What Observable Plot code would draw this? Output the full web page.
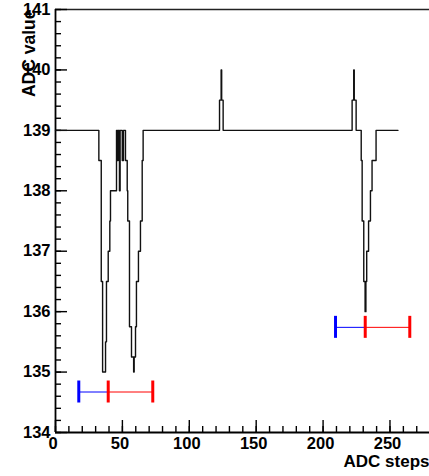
<!DOCTYPE html>
<html>
<head>
<meta charset="utf-8">
<script src="https://cdn.jsdelivr.net/npm/d3@7"></script>
<script src="https://cdn.jsdelivr.net/npm/@observablehq/plot@0.6"></script>
<style>
  html, body { margin: 0; padding: 0; background: #fff; overflow: hidden; }
  #chart { width: 429px; height: 476px; overflow: hidden; }
  #chart svg { max-width: none !important; height: 476px !important; }
</style>
</head>
<body>
<div id="chart"></div>
<script>
// ADC trace vertices (ADC step, ADC value)
const adcStep = [
  0, 32.4, 32.4, 34.2, 34.2, 35.2, 35.2, 37.4, 37.4, 38.1, 38.1, 39.4, 39.4, 40.6, 40.6, 41.1, 41.1,
  45.6, 45.6, 46.3, 46.3, 46.8, 46.8, 47.8, 47.8, 48.3, 48.3, 49.9, 49.9, 50.8, 50.8,
  52.3, 52.3, 53.6, 53.6, 54.0, 54.0, 55.3, 55.3, 56.8, 56.8, 58.4, 58.4, 58.8, 58.8,
  59.8, 59.8, 60.5, 60.5, 62.0, 62.0, 63.5, 63.5, 64.8, 64.8, 65.5, 65.5,
  122.6, 122.6, 123.8, 123.8, 124.2, 124.2, 125.3, 125.3,
  221.7, 221.7, 222.9, 222.9, 223.3, 223.3, 224.7, 224.7,
  228.5, 228.5, 229.2, 229.2, 230.4, 230.4, 231.4, 231.4, 232.0, 232.0, 232.6, 232.6,
  234.0, 234.0, 235.4, 235.4, 236.6, 236.6, 239.6, 239.6, 256
];
const adcValue = [
  139, 139, 138.5, 138.5, 136.5, 136.5, 135, 135, 135.5, 135.5, 136.5, 136.5, 137, 137, 137.5, 137.5, 138,
  138, 139, 139, 138.5, 138.5, 139, 139, 138, 138, 139, 139, 138.5, 138.5, 139,
  139, 138.5, 138.5, 138, 138, 137.5, 137.5, 135.75, 135.75, 135.25, 135.25, 135, 135, 135.25,
  135.25, 135.75, 135.75, 136.5, 136.5, 137, 137, 137.5, 137.5, 138.5, 138.5, 139,
  139, 139.5, 139.5, 140, 140, 139.5, 139.5, 139,
  139, 139.5, 139.5, 140, 140, 139.5, 139.5, 139,
  139, 138.5, 138.5, 137.5, 137.5, 136.5, 136.5, 136, 136, 136.5, 136.5, 137,
  137, 137.5, 137.5, 138, 138, 138.5, 138.5, 139, 139
];

// Error-bar markers
const barLevel = [134.67, 135.74];
const blueStart = [17.4, 209.3];
const barCenter = [39.4, 231.5];
const redEnd = [72.7, 264.8];

// Axis ticks
const xTicks = [0, 50, 100, 150, 200, 250];
const yTicks = [134, 135, 136, 137, 138, 139, 140, 141];
const xMinor = d3.range(0, 291, 10);
const yMinor = d3.range(134, 141.01, 0.2).map(v => +v.toFixed(1));

const trace = adcStep.map((s, i) => ({step: s, value: adcValue[i]}));
const bars = barLevel.map((y, i) => ({y, lo: blueStart[i], mid: barCenter[i], hi: redEnd[i]}));

const font = "'Liberation Sans', Arial, Helvetica, sans-serif";

const chart = Plot.plot({
  width: 444,
  height: 476,
  marginLeft: 55,
  marginRight: 1,
  marginTop: 9,
  marginBottom: 44,
  x: {domain: [0, 290], axis: null},
  y: {domain: [134, 141], axis: null},
  style: {fontFamily: font, fontWeight: "bold", fontSize: "16.5px", color: "black", background: "white"},
  marks: [
    // frame
    Plot.ruleY([141], {stroke: "#222", strokeWidth: 1.6}),
    Plot.ruleX([0], {stroke: "black", strokeWidth: 1.8}),
    Plot.ruleY([134], {stroke: "black", strokeWidth: 1.8}),
    // y ticks (inward)
    Plot.ruleY(yMinor, {x1: 0, x2: 0, insetRight: -6, stroke: "black", strokeWidth: 1.4}),
    Plot.ruleY(yTicks, {x1: 0, x2: 0, insetRight: -12, stroke: "black", strokeWidth: 1.4}),
    // x ticks (inward)
    Plot.ruleX(xMinor, {y1: 134, y2: 134, insetTop: -6, stroke: "black", strokeWidth: 1.4}),
    Plot.ruleX(xTicks, {y1: 134, y2: 134, insetTop: -12, stroke: "black", strokeWidth: 1.4}),
    // tick labels
    Plot.axisY(yTicks, {tickSize: 0, tickPadding: 5, label: null, tickFormat: d => String(d), fill: "black"}),
    Plot.axisX(xTicks, {tickSize: 0, tickPadding: 5, dx: -2.5, label: null, tickFormat: d => String(d), fill: "black"}),
    // axis titles
    Plot.text(["ADC steps"], {frameAnchor: "bottom-right", textAnchor: "end", dx: -14, dy: 34.5, fontSize: 17, fill: "black"}),
    Plot.text(["ADC value"], {frameAnchor: "top-left", textAnchor: "end", rotate: -90, dx: -33.3, dy: 0, fontSize: 17.5, fill: "black"}),
    // trace
    Plot.line(trace, {x: "step", y: "value", stroke: "#111", strokeWidth: 1.4}),
    // error bars
    Plot.ruleY(bars, {y: "y", x1: "lo", x2: "mid", stroke: "#0000ff", strokeWidth: 1}),
    Plot.ruleY(bars, {y: "y", x1: "mid", x2: "hi", stroke: "#ff0000", strokeWidth: 1}),
    Plot.ruleX(bars, {x: "lo", y1: "y", y2: "y", insetTop: -11, insetBottom: -11, stroke: "#0000ff", strokeWidth: 3}),
    Plot.ruleX(bars, {x: "mid", y1: "y", y2: "y", insetTop: -11, insetBottom: -11, stroke: "#ff0000", strokeWidth: 3}),
    Plot.ruleX(bars, {x: "hi", y1: "y", y2: "y", insetTop: -11, insetBottom: -11, stroke: "#ff0000", strokeWidth: 3})
  ]
});
document.getElementById("chart").appendChild(chart);
</script>
</body>
</html>
